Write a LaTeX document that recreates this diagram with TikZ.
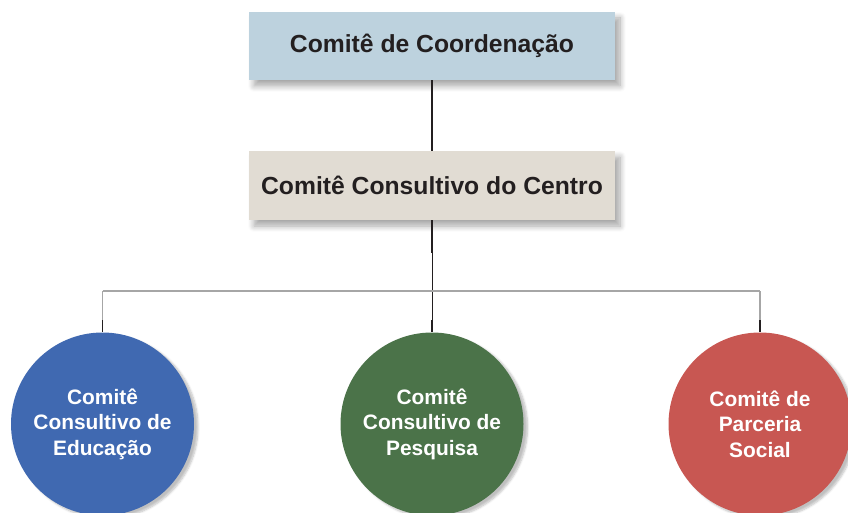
\documentclass[tikz,border=0pt]{standalone}
\usepackage{fontspec}
\setmainfont{Liberation Sans}
\usepackage{tikz}
\usetikzlibrary{shadows, shadows.blur, positioning}
\definecolor{coordBlue}{HTML}{BDD2DE}
\definecolor{centroBeige}{HTML}{E1DCD3}
\definecolor{educBlue}{HTML}{4069B1}
\definecolor{pesqGreen}{HTML}{4B7349}
\definecolor{socRed}{HTML}{C85752}
\definecolor{lineDark}{HTML}{231F20}
\definecolor{lineGray}{HTML}{A6A6A6}
\tikzset{
  comitebox/.style={rectangle, minimum width=366pt, minimum height=68pt, inner sep=0pt,
    font=\fontsize{24.7}{29}\selectfont\bfseries, text=lineDark,
    blur shadow={shadow xshift=5pt, shadow yshift=-6pt, shadow opacity=35, shadow blur steps=8, shadow blur radius=6pt}},
  comitecircle/.style={circle, minimum size=183pt, inner sep=0pt, align=center,
    font=\fontsize{20.9}{25.5}\selectfont\bfseries, text=white,
    blur shadow={shadow xshift=4pt, shadow yshift=-3pt, shadow opacity=25, shadow blur steps=6}},
  darkline/.style={draw=lineDark, line width=1.6pt},
  thinline/.style={draw=lineDark, line width=0.8pt},
  grayline/.style={draw=lineGray, line width=1.2pt}
}

\begin{document}
\begin{tikzpicture}[x=1pt, y=-1pt]
  \clip (0,0) rectangle (848,513);

  % comites de cima
  \node[comitebox, fill=coordBlue] (coord) at (432,46) {Comitê de Coordenação};
  \node[comitebox, fill=centroBeige, minimum height=69pt] (centro) at (432,185.5) {Comitê Consultivo do Centro};

  % comites consultivos
  \node[comitecircle, fill=educBlue] (educ) at (102.5,424) {Comitê\\Consultivo de\\Educação};
  \node[comitecircle, fill=pesqGreen] (pesq) at (432,424) {Comitê\\Consultivo de\\Pesquisa};
  \node[comitecircle, fill=socRed] (soc) at (760,424) {Comitê de\\Parceria\\Social};

  \coordinate (split) at (432,291);

  \draw[darkline] (coord) -- (centro);
  \draw[thinline] (centro.south) -- (pesq.north);
  \draw[darkline] (centro.south) -- ([yshift=-33pt]centro.south);
  \draw[grayline] (educ.north |- split) -- (soc.north |- split);
  \foreach \c in {educ, soc}
    \draw[grayline] (\c.north |- split) -- (\c.north);
  \foreach \c in {educ, pesq, soc}
    \draw[darkline] ([yshift=12pt]\c.north) -- (\c.north);

\end{tikzpicture}
\end{document}
